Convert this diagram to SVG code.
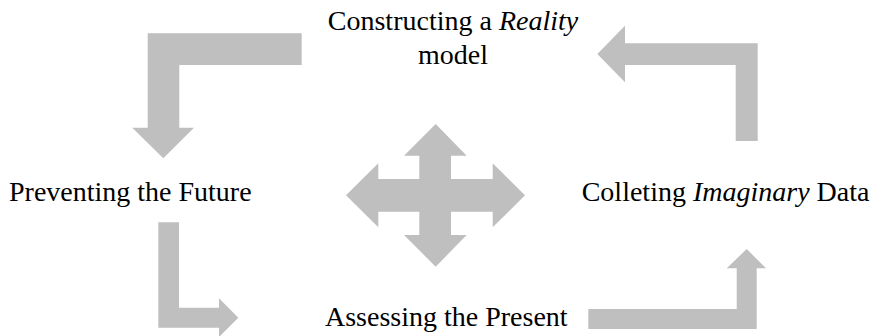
<svg xmlns="http://www.w3.org/2000/svg" width="877" height="336" viewBox="0 0 877 336">
  <style>
    .arrow { fill: #BFBFBF; stroke: none; }
    .label { font-family: "Liberation Serif", "Times New Roman", serif; font-size: 28px; fill: #000; }
    .em { font-style: italic; }
  </style>
  <rect width="877" height="336" fill="#FFFFFF"/>

  <!-- block arrows cycling between the four stages -->
  <g id="connectors">
    <polygon class="arrow" points="301.7,33.3 147.7,33.3 147.7,127.7 132.3,127.7 163.3,158.3 194,127.7 179.3,127.7 179.3,65 301.7,65"/>
    <polygon class="arrow" points="757.7,141 757.7,43.3 625,43.3 625,25.7 597.3,54 625,82.3 625,65 735.7,65 735.7,141"/>
    <polygon class="arrow" points="158.3,222.3 179,222.3 179,307.7 219,307.7 219,298.3 238.3,317.7 219,337 219,327.7 158.3,327.7"/>
    <polygon class="arrow" points="588.3,309 736.7,309 736.7,268.3 726.7,268.3 746.7,249 766,268.3 756.7,268.3 756.7,329 588.3,329"/>
    <!-- four-way arrow in the middle -->
    <polygon class="arrow" points="435.7,124 466.7,155.7 451,155.7 451,179 492.7,179 492.7,163.3 525,195.3 492.7,227.3 492.7,211.7 451,211.7 451,235 466.7,235 435.7,266.7 404,235 419.3,235 419.3,211.7 378.3,211.7 378.3,227.3 346,195.3 378.3,163.3 378.3,179 419.3,179 419.3,155.7 404,155.7"/>
  </g>

  <g id="node-reality">
    <text class="label" x="453" y="30" text-anchor="middle">Constructing a <tspan class="em">Reality</tspan></text>
    <text class="label" x="453" y="63.5" text-anchor="middle">model</text>
  </g>
  <g id="node-imaginary">
    <text class="label" x="581.7" y="201">Colleting <tspan class="em">Imaginary</tspan> Data</text>
  </g>
  <g id="node-present">
    <text class="label" x="325" y="326">Assessing the Present</text>
  </g>
  <g id="node-future">
    <text class="label" x="9" y="201">Preventing the Future</text>
  </g>
</svg>
